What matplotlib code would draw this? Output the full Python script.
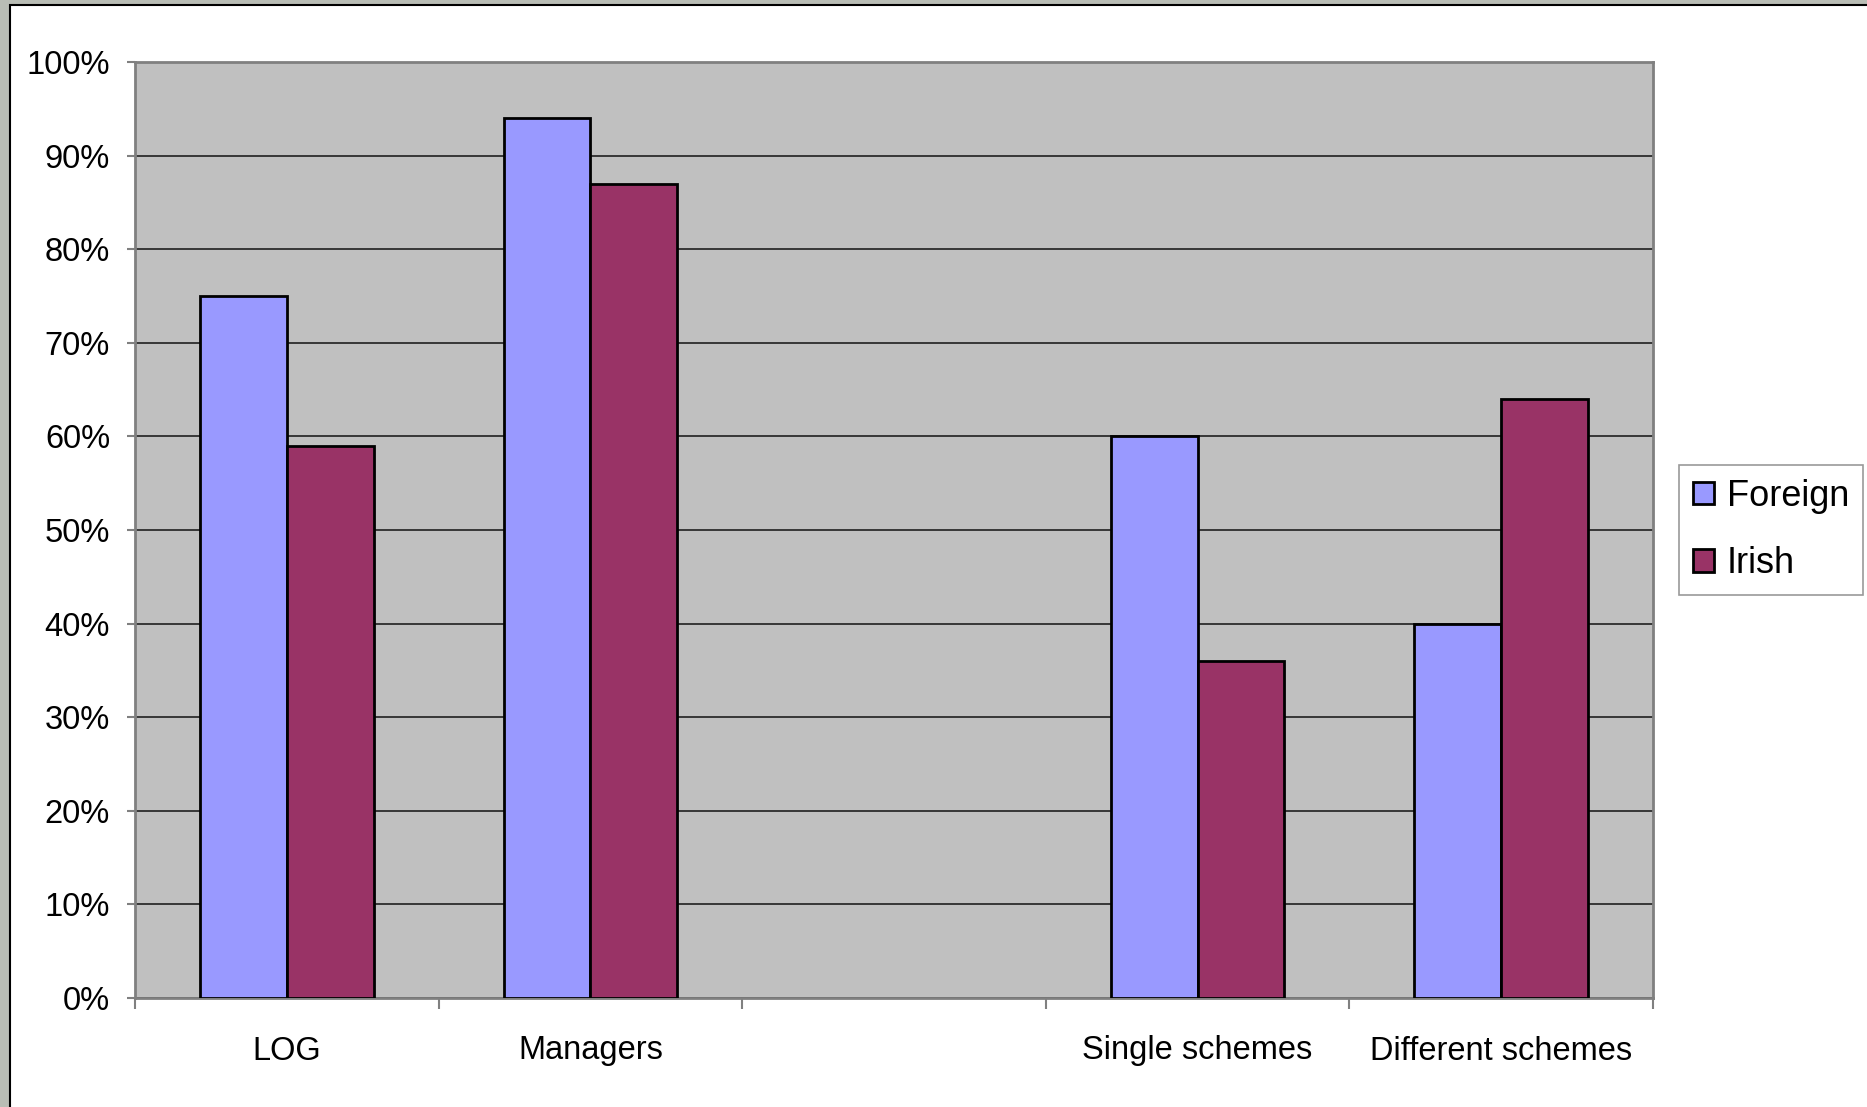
import matplotlib
matplotlib.use("Agg")
import matplotlib.pyplot as plt
from matplotlib.patches import Rectangle
import numpy as np

categories = ["LOG", "Managers", "", "Single schemes", "Different schemes"]
foreign = [75, 94, np.nan, 60, 40]
irish = [59, 87, np.nan, 36, 64]
series_names = ["Foreign", "Irish"]
y_ticks = [0, 10, 20, 30, 40, 50, 60, 70, 80, 90, 100]

plt.rcParams["font.family"] = ["Liberation Sans", "DejaVu Sans"]

W, H = 1867, 1107
fig = plt.figure(figsize=(W / 100, H / 100), dpi=100)
fig.patch.set_facecolor("#b9bdb5")

# white chart panel with a dark border, kept behind the axes
panel = Rectangle((10 / W, -0.01), 1.01 - 10 / W, 1.01 - 5 / H, transform=fig.transFigure,
                  facecolor="white", edgecolor="black", linewidth=1.5, zorder=-5)
fig.add_artist(panel)

ax = fig.add_axes([135 / W, 1 - 998 / H, (1653 - 135) / W, (998 - 62) / H])
ax.set_facecolor("#c0c0c0")
ax.set_zorder(1)

x = np.arange(len(categories))
bw = 1 / 3.5
ax.bar(x - bw / 2, foreign, bw, color="#9999ff", edgecolor="black", linewidth=2,
       label=series_names[0], zorder=3)
ax.bar(x + bw / 2, irish, bw, color="#993366", edgecolor="black", linewidth=2,
       label=series_names[1], zorder=3)

ax.set_xlim(-0.5, len(categories) - 0.5)
ax.set_ylim(0, 100)

ax.set_yticks(y_ticks)
ax.set_yticklabels([f"{v}%" for v in y_ticks], fontsize=23.5)
ax.yaxis.grid(True, color="#202020", linewidth=1.2, zorder=1)
ax.set_axisbelow(True)

ax.set_xticks(np.arange(len(categories) + 1) - 0.5)
ax.set_xticklabels([])
ax.set_xticks(x, minor=True)
ax.set_xticklabels(categories, minor=True, fontsize=23.5)
ax.tick_params(axis="x", which="minor", length=0, pad=27)
ax.tick_params(axis="x", which="major", length=8, width=1.5, color="#808080")
ax.tick_params(axis="y", length=6, width=1.5, color="#808080", pad=12)

for s in ax.spines.values():
    s.set_color("#808080")
    s.set_linewidth(2)

leg = fig.legend(loc="upper left", bbox_to_anchor=(1679 / W, 1 - 465 / H), borderaxespad=0,
                 fontsize=26, frameon=True, fancybox=False, handlelength=0.6, handleheight=0.6,
                 handletextpad=0.35, labelspacing=0.9, borderpad=0.38)
leg.get_frame().set_edgecolor("#808080")
leg.get_frame().set_linewidth(1.2)
leg.set_zorder(2)
for h in leg.legend_handles:
    h.set_linewidth(2)

fig.savefig("out.png", dpi=100, facecolor=fig.get_facecolor())
